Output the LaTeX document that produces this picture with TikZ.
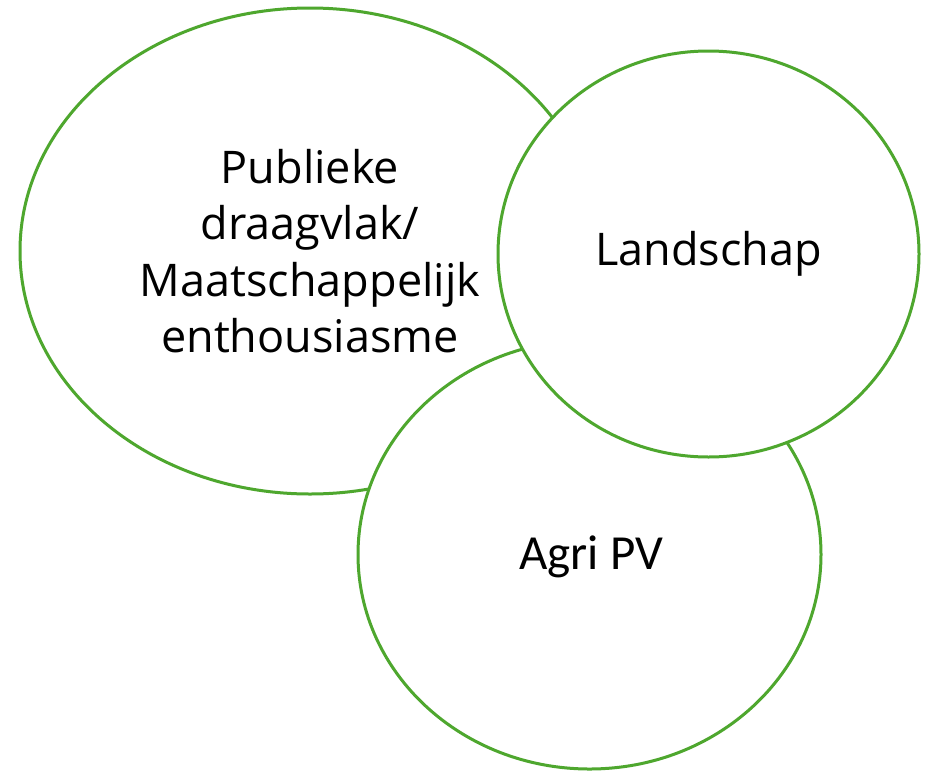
\documentclass[tikz,border=0pt]{standalone}
\usepackage{fontspec}
\setmainfont{Open Sans}
\newfontfamily\agrifont{Carlito}
\usetikzlibrary{shapes.geometric}
\definecolor{ringgreen}{HTML}{4EA72E}
\begin{document}
\begin{tikzpicture}[x=1pt,y=-1pt,
  ring/.style={draw=ringgreen, line width=3pt, fill=white, ellipse, inner sep=0pt, align=center, text=black},
  mainfont/.style={font=\fontsize{45}{56.5}\selectfont},
  pvfont/.style={font=\agrifont\fontsize{49}{60}\selectfont}]
\fill[white] (0,0) rectangle (933,771);
\useasboundingbox (0,0) rectangle (933,771);
\node[ring, mainfont, minimum width=580pt, minimum height=486pt] (pub) at (310,251)
  {Publieke\\draagvlak/\\Maatschappelijk\\enthousiasme};
\node[ring, pvfont, minimum width=463pt, minimum height=429pt] (agri) at (589.5,554.5) {};
\node[pvfont, inner sep=0pt] (agrit) at (591,557) {Agri PV};
\node[ring, mainfont, minimum width=421pt, minimum height=406pt] (land) at (708.5,254) {Landschap};
\end{tikzpicture}
\end{document}
